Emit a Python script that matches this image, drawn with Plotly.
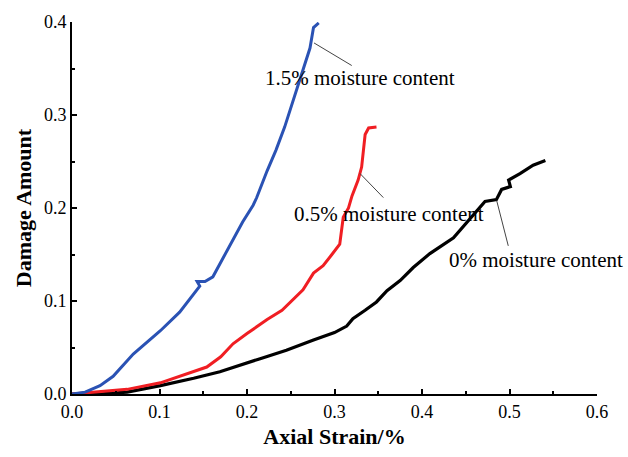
import plotly.graph_objects as go

# 1.5% moisture content (blue)
blue_x = [0.0, 0.015, 0.032, 0.047, 0.070, 0.101, 0.123, 0.146, 0.143, 0.152, 0.161, 0.181,
          0.195, 0.207, 0.211, 0.223, 0.233, 0.243, 0.253, 0.264, 0.272, 0.276, 0.279, 0.282]
blue_y = [0.0, 0.002, 0.009, 0.019, 0.043, 0.068, 0.088, 0.116, 0.121, 0.121, 0.126, 0.161,
          0.185, 0.203, 0.211, 0.240, 0.262, 0.287, 0.316, 0.348, 0.372, 0.394, 0.397, 0.399]

# 0.5% moisture content (red)
red_x = [0.0, 0.028, 0.063, 0.101, 0.123, 0.154, 0.170, 0.184, 0.200, 0.223, 0.240, 0.253,
         0.264, 0.276, 0.287, 0.297, 0.306, 0.310, 0.316, 0.320, 0.327, 0.331, 0.333, 0.335,
         0.339, 0.348]
red_y = [0.0, 0.002, 0.005, 0.012, 0.019, 0.029, 0.040, 0.054, 0.065, 0.080, 0.090, 0.102,
         0.112, 0.130, 0.138, 0.150, 0.161, 0.190, 0.200, 0.213, 0.230, 0.244, 0.262, 0.279,
         0.286, 0.287]

# 0% moisture content (black)
black_x = [0.0, 0.030, 0.063, 0.101, 0.139, 0.169, 0.215, 0.245, 0.276, 0.300, 0.314, 0.321,
           0.335, 0.348, 0.360, 0.375, 0.390, 0.409, 0.436, 0.455, 0.472, 0.485, 0.491, 0.501,
           0.499, 0.512, 0.527, 0.541]
black_y = [0.0, 0.0, 0.002, 0.009, 0.017, 0.024, 0.038, 0.047, 0.058, 0.066, 0.073, 0.081,
           0.090, 0.099, 0.111, 0.122, 0.136, 0.151, 0.168, 0.188, 0.207, 0.209, 0.220, 0.223,
           0.230, 0.237, 0.246, 0.251]

labels = ["1.5% moisture content", "0.5% moisture content", "0% moisture content"]
# leader line endpoints (data coords) and label anchors
leader_x0 = [0.2766, 0.329, 0.4854]
leader_y0 = [0.3775, 0.2372, 0.2078]
leader_x1 = [0.3197, 0.3558, 0.4986]
leader_y1 = [0.3532, 0.2112, 0.1593]
label_x = [0.218, 0.251, 0.428]
label_y = [0.3397, 0.194, 0.1437]

x_title = "Axial Strain/%"
y_title = "Damage Amount"

FONT = "Liberation Serif, Times New Roman, serif"

fig = go.Figure()
fig.add_trace(go.Scatter(x=black_x, y=black_y, mode="lines",
                         line=dict(color="black", width=3.2), showlegend=False))
fig.add_trace(go.Scatter(x=red_x, y=red_y, mode="lines",
                         line=dict(color="#F01E23", width=3), showlegend=False))
fig.add_trace(go.Scatter(x=blue_x, y=blue_y, mode="lines",
                         line=dict(color="#2A52B4", width=3), showlegend=False))

for i, lab in enumerate(labels):
    fig.add_shape(type="line", xref="x", yref="y",
                  x0=leader_x0[i], y0=leader_y0[i], x1=leader_x1[i], y1=leader_y1[i],
                  line=dict(color="#444444", width=1))
    fig.add_annotation(x=label_x[i], y=label_y[i], xref="x", yref="y", text=lab,
                       showarrow=False, xanchor="left", yanchor="middle",
                       font=dict(family=FONT, size=21, color="black"))

axis_common = dict(showgrid=False, zeroline=False, showline=True, linecolor="black",
                   linewidth=2, ticks="inside", ticklen=5, tickwidth=1.5, tickcolor="black",
                   tickfont=dict(family=FONT, size=18, color="black"), mirror=False)

fig.update_xaxes(range=[0, 0.6], dtick=0.1, tickformat=".1f",
                 title=dict(text="<b>" + x_title + "</b>", font=dict(family=FONT, size=22, color="black"),
                            standoff=8),
                 minor=dict(dtick=0.05, ticks="inside", ticklen=3, tickcolor="black"),
                 **axis_common)
fig.update_yaxes(range=[0, 0.4], dtick=0.1, tickformat=".1f",
                 title=dict(text="<b>" + y_title + "</b>", font=dict(family=FONT, size=22, color="black"),
                            standoff=6),
                 minor=dict(dtick=0.05, ticks="inside", ticklen=3, tickcolor="black"),
                 **axis_common)

fig.update_layout(width=628, height=457, margin=dict(l=72, r=31, t=20, b=52),
                  plot_bgcolor="white", paper_bgcolor="white")

fig.write_html("out.html")
